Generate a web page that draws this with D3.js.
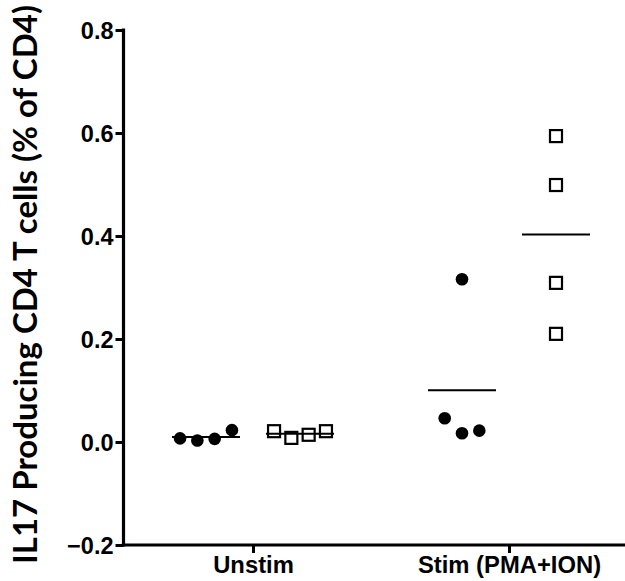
<!DOCTYPE html>
<html>
<head>
<meta charset="utf-8">
<script src="https://cdn.jsdelivr.net/npm/d3@7"></script>
<style>
  body { margin: 0; background: #fff; }
  svg { display: block; }
</style>
</head>
<body>
<svg id="chart" width="625" height="581"></svg>
<script>
// データ
const groups = ["Unstim", "Stim (PMA+ION)"];
const yTicks = [-0.2, 0.0, 0.2, 0.4, 0.6, 0.8];

// 黒丸 (filled circles)
const circleVals = [
  [0.007, 0.003, 0.006, 0.023],
  [0.046, 0.017, 0.022, 0.316]
];
const circleSpread = [
  [-1.5, -0.5, 0.5, 1.5],
  [-1, 0, 1, 0]
];

// 白四角 (open squares)
const squareVals = [
  [0.021, 0.008, 0.014, 0.021],
  [0.594, 0.499, 0.309, 0.210]
];
const squareSpread = [
  [-1.5, -0.5, 0.5, 1.5],
  [0, 0, 0, 0]
];

const svg = d3.select("#chart");
const margin = { left: 123.5, top: 30, bottom: 545 };

const x = d3.scalePoint()
  .domain(groups)
  .range([253, 509]);

const y = d3.scaleLinear()
  .domain([-0.2, 0.8])
  .range([margin.bottom, margin.top]);

const sub = 47;     // サブグループのずらし
const step = 17.3;  // 点の間隔

// 軸
const yAxis = svg.append("g")
  .attr("transform", `translate(${margin.left},0)`)
  .call(d3.axisLeft(y).tickValues(yTicks).tickFormat(d3.format(".1f")).tickSize(8).tickSizeOuter(0));

const xAxis = svg.append("g")
  .attr("transform", `translate(0,${margin.bottom})`)
  .call(d3.axisBottom(x).tickSize(8).tickSizeOuter(0));

[yAxis, xAxis].forEach(a => {
  a.select(".domain").attr("stroke", "#000").attr("stroke-width", 3.2);
  a.selectAll(".tick line").attr("stroke", "#000").attr("stroke-width", 3);
  a.selectAll("text")
    .attr("fill", "#000")
    .style("font-family", "Liberation Sans, Arial, sans-serif")
    .style("font-weight", "bold");
});
yAxis.select(".domain").attr("d", `M0,${margin.top - 1.5}V${margin.bottom + 1.5}`);
xAxis.select(".domain").attr("d", `M${margin.left - 1.5},0H625`);
yAxis.selectAll("text").attr("x", -10).attr("dy", "0.36em").style("font-size", "23.5px");
xAxis.selectAll("text").attr("y", 11).style("font-size", "23.8px");

// y タイトル
svg.append("text")
  .attr("transform", `translate(37,${(6 + 563) / 2}) rotate(-90)`)
  .attr("text-anchor", "middle")
  .style("font-family", "Lato, 'Open Sans', sans-serif")
  .style("font-weight", "bold")
  .style("font-size", "33px")
  .text("IL17 Producing CD4 T cells (% of CD4)");

const mean = a => d3.mean(a);

groups.forEach((g, i) => {
  const cx = x(g) - sub;
  const sx = x(g) + sub;

  // 平均線
  [[cx, circleVals[i]], [sx, squareVals[i]]].forEach(([c, vals]) => {
    svg.append("line")
      .attr("x1", c - 34).attr("x2", c + 34)
      .attr("y1", y(mean(vals))).attr("y2", y(mean(vals)))
      .attr("stroke", "#000")
      .attr("stroke-width", 2);
  });

  // 黒丸
  svg.selectAll(null)
    .data(circleVals[i].map((v, j) => ({ v, s: circleSpread[i][j] })))
    .enter()
    .append("circle")
    .attr("cx", d => cx + d.s * step)
    .attr("cy", d => y(d.v))
    .attr("r", 6.3)
    .attr("fill", "#000");

  // 白四角
  svg.selectAll(null)
    .data(squareVals[i].map((v, j) => ({ v, s: squareSpread[i][j] })))
    .enter()
    .append("rect")
    .attr("x", d => sx + d.s * step - 6)
    .attr("y", d => y(d.v) - 6)
    .attr("width", 12)
    .attr("height", 12)
    .attr("fill", "none")
    .attr("stroke", "#000")
    .attr("stroke-width", 2.2);
});
</script>
</body>
</html>
